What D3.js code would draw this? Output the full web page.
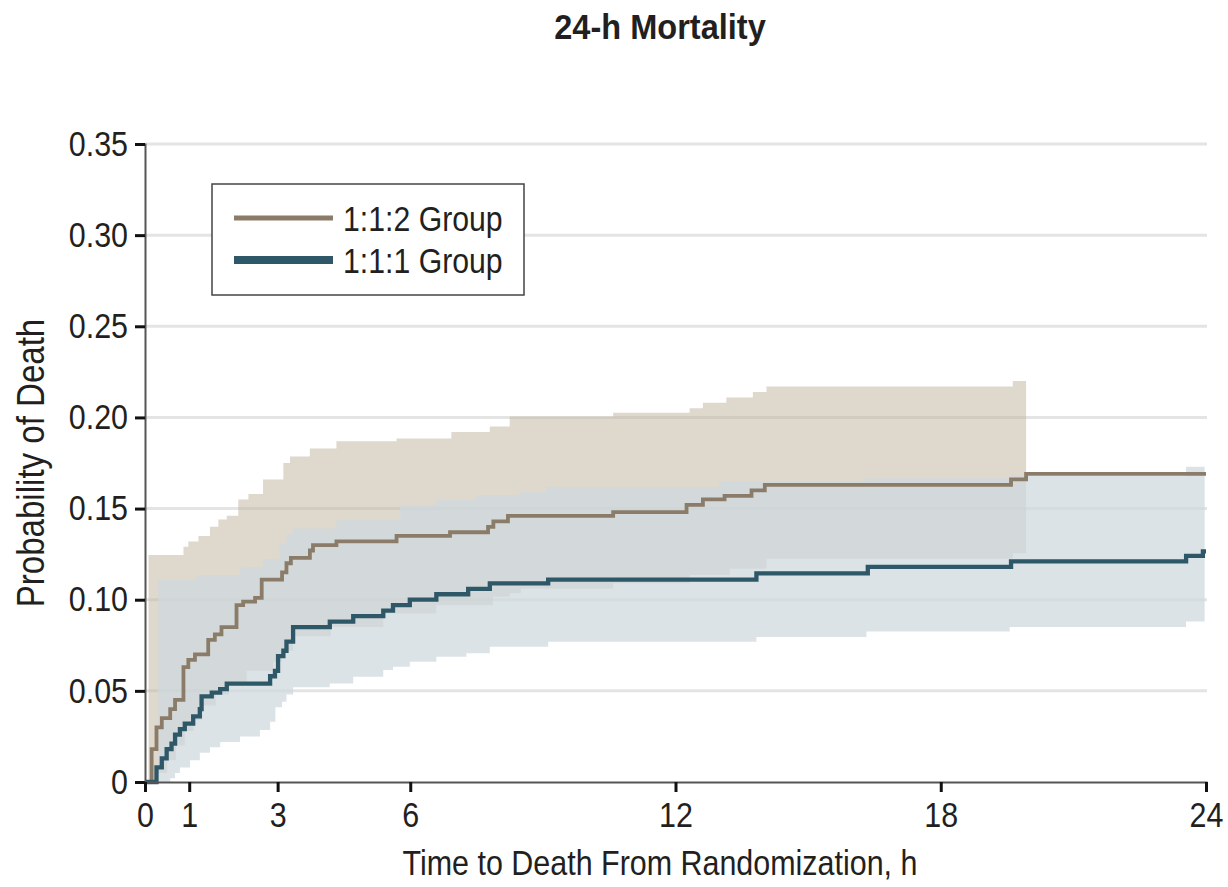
<!DOCTYPE html>
<html>
<head>
<meta charset="utf-8">
<style>
  body { margin: 0; background: #fff; }
  svg text { font-family: "Liberation Sans", Arial, sans-serif; fill: #231f20; }
</style>
<script src="https://cdn.jsdelivr.net/npm/d3@7"></script>
</head>
<body>
<svg id="chart" width="1228" height="887"></svg>
<script>
// ---- data ----
const seriesNames = ["1:1:2 Group", "1:1:1 Group"];
const xTicks = [0, 1, 3, 6, 12, 18, 24];
const yTicks = [0, 0.05, 0.10, 0.15, 0.20, 0.25, 0.30, 0.35];
const yTickLabels = ["0", "0.05", "0.10", "0.15", "0.20", "0.25", "0.30", "0.35"];

// Kaplan-Meier step curves (time in h, cumulative probability of death)
const group112Time = [0, 0.15, 0.26, 0.38, 0.57, 0.68, 0.87, 0.98, 1.13, 1.43, 1.58, 1.73, 2.07, 2.22, 2.49, 2.64, 3.10, 3.20, 3.30, 3.73, 3.80, 4.33, 5.69, 6.90, 7.76, 7.88, 8.21, 10.59, 12.25, 12.62, 13.11, 13.72, 14.02, 19.59, 19.93, 24];
const group112Prob = [0, 0.018, 0.030, 0.035, 0.040, 0.045, 0.063, 0.067, 0.070, 0.078, 0.081, 0.085, 0.097, 0.099, 0.101, 0.111, 0.115, 0.120, 0.123, 0.127, 0.130, 0.132, 0.135, 0.137, 0.140, 0.143, 0.146, 0.148, 0.152, 0.155, 0.157, 0.160, 0.163, 0.166, 0.169, 0.169];

const group111Time = [0, 0.26, 0.38, 0.49, 0.60, 0.68, 0.79, 0.90, 1.09, 1.24, 1.28, 1.51, 1.70, 1.85, 2.83, 2.94, 3.01, 3.13, 3.20, 3.35, 4.18, 4.71, 5.39, 5.61, 5.99, 6.59, 7.31, 7.80, 9.12, 13.83, 16.35, 19.59, 23.55, 23.93, 24];
const group111Prob = [0, 0.008, 0.013, 0.018, 0.021, 0.026, 0.029, 0.032, 0.036, 0.040, 0.047, 0.049, 0.051, 0.054, 0.058, 0.061, 0.069, 0.072, 0.077, 0.085, 0.088, 0.091, 0.094, 0.097, 0.100, 0.103, 0.106, 0.109, 0.111, 0.1145, 0.118, 0.121, 0.124, 0.1265, 0.1265];

// confidence bands
const band112End = 19.93;
const band112UpperTime = [0.08, 0.87, 0.98, 1.21, 1.47, 1.66, 1.85, 2.11, 2.34, 2.67, 3.13, 3.28, 3.73, 4.33, 5.69, 6.93, 7.80, 8.25, 10.59, 12.32, 12.62, 13.15, 13.75, 14.06, 19.63];
const band112Upper = [0.1245, 0.129, 0.132, 0.135, 0.140, 0.144, 0.146, 0.155, 0.158, 0.166, 0.175, 0.1785, 0.183, 0.187, 0.1885, 0.192, 0.195, 0.2005, 0.2026, 0.205, 0.208, 0.211, 0.214, 0.217, 0.220];
const band112LowerTime = [0.08, 0.30, 0.50, 0.70, 0.90, 1.10, 1.30, 1.60, 1.90, 2.30, 2.90, 3.10, 3.35, 4.20, 5.39, 6.59, 7.87, 8.25, 8.50, 10.59, 12.32, 13.23, 14.06, 19.63];
const band112Lower = [0, 0.005, 0.012, 0.020, 0.028, 0.034, 0.042, 0.048, 0.055, 0.061, 0.066, 0.072, 0.080, 0.085, 0.0925, 0.097, 0.1016, 0.1035, 0.106, 0.109, 0.1136, 0.117, 0.1225, 0.1255];

const band111End = 23.97;
const band111UpperTime = [0.30, 1.17, 2.15, 2.67, 3.05, 3.20, 3.35, 4.33, 5.77, 6.59, 7.50, 8.48, 9.08, 13.00, 16.30, 19.60, 23.55];
const band111Upper = [0.111, 0.1136, 0.118, 0.122, 0.131, 0.136, 0.139, 0.1437, 0.152, 0.1547, 0.1574, 0.159, 0.162, 0.1647, 0.1666, 0.168, 0.173];
const band111LowerTime = [0.30, 0.57, 0.68, 0.79, 1.02, 1.24, 1.47, 1.70, 2.15, 2.60, 2.83, 2.95, 3.10, 3.20, 3.35, 4.18, 4.71, 5.39, 5.61, 5.99, 6.59, 7.27, 7.80, 9.12, 13.83, 16.32, 19.56, 23.55];
const band111Lower = [0, 0.002, 0.005, 0.008, 0.012, 0.016, 0.019, 0.022, 0.025, 0.0285, 0.033, 0.041, 0.044, 0.048, 0.052, 0.054, 0.0578, 0.0614, 0.0632, 0.066, 0.0687, 0.0706, 0.0742, 0.077, 0.0795, 0.0825, 0.085, 0.088];

// ---- drawing ----
const svg = d3.select("#chart");
const x = d3.scaleLinear().domain([0, 24]).range([145, 1206]);
const y = d3.scaleLinear().domain([0, 0.35]).range([782, 144]);

const tanLine = "#8a7c69", tanFill = "rgba(190,178,155,0.5)";
const blueLine = "#2e5867", blueFill = "rgba(207,217,222,0.74)";
// no condensed face installed, so narrow the text by hand
const tickSqueeze = 0.87, titleSqueeze = 0.87, legendSqueeze = 0.84;

// value of a step function at t
function stepAt(times, vals, t) {
  let v = vals[0];
  times.forEach((tt, i) => { if (tt <= t) v = vals[i]; });
  return v;
}

function bandPoints(upT, upV, loT, loV, end) {
  let ts = Array.from(new Set([...upT, ...loT, end])).filter(t => t <= end).sort((a, b) => a - b);
  return ts.map(t => ({ t: t, hi: stepAt(upT, upV, t), lo: stepAt(loT, loV, t) }));
}

// gridlines
svg.append("g").selectAll("line")
  .data(yTicks.filter(d => d > 0))
  .enter().append("line")
  .attr("x1", x(0)).attr("x2", x(24) + 1)
  .attr("y1", d => y(d)).attr("y2", d => y(d))
  .attr("stroke", "#e4e4e4")
  .attr("stroke-width", 3);

let area = d3.area()
  .x(d => x(d.t))
  .y0(d => y(d.lo))
  .y1(d => y(d.hi))
  .curve(d3.curveStepAfter);

svg.append("path")
  .datum(bandPoints(band112UpperTime, band112Upper, band112LowerTime, band112Lower, band112End))
  .attr("d", area)
  .attr("fill", tanFill);

svg.append("path")
  .datum(bandPoints(band111UpperTime, band111Upper, band111LowerTime, band111Lower, band111End))
  .attr("d", area)
  .attr("fill", blueFill);

let line = d3.line()
  .x(d => x(d[0]))
  .y(d => y(d[1]))
  .curve(d3.curveStepAfter);

svg.append("path")
  .datum(d3.zip(group112Time, group112Prob))
  .attr("d", line)
  .attr("fill", "none")
  .attr("stroke", tanLine)
  .attr("stroke-width", 3.8);

svg.append("path")
  .datum(d3.zip(group111Time, group111Prob))
  .attr("d", line)
  .attr("fill", "none")
  .attr("stroke", blueLine)
  .attr("stroke-width", 4.3);

// axes
let yAxis = d3.axisLeft(y).tickValues(yTicks)
  .tickFormat((d, i) => yTickLabels[i]).tickSize(10).tickPadding(7);
let gy = svg.append("g").attr("transform", "translate(" + x(0) + ",0)").call(yAxis);

let xAxis = d3.axisBottom(x).tickValues(xTicks).tickSize(10).tickPadding(6);
let gx = svg.append("g").attr("transform", "translate(0," + y(0) + ")").call(xAxis);

[gy, gx].forEach(g => {
  g.select(".domain").attr("stroke", "#555").attr("stroke-width", 2);
  g.selectAll(".tick line").attr("stroke", "#111").attr("stroke-width", 3);
  g.selectAll(".tick text").attr("font-size", 35).attr("fill", "#231f20")
    .style("font-family", "'Liberation Sans', Arial, sans-serif")
    .attr("transform", "scale(" + tickSqueeze + ",1)");
});
gy.selectAll(".tick text").attr("x", -17 / tickSqueeze);
gx.selectAll(".tick text").attr("y", 45).attr("dy", 0);

// titles
svg.append("text")
  .attr("transform", "scale(0.93,1)")
  .attr("x", 660 / 0.93).attr("y", 39)
  .attr("text-anchor", "middle")
  .attr("font-size", 35).attr("font-weight", "bold")
  .text("24-h Mortality");

svg.append("text")
  .attr("transform", "scale(" + titleSqueeze + ",1)")
  .attr("x", 660 / titleSqueeze).attr("y", 875)
  .attr("text-anchor", "middle")
  .attr("font-size", 35)
  .text("Time to Death From Randomization, h");

svg.append("text")
  .attr("transform", "translate(44,463) rotate(-90) scale(" + titleSqueeze + ",1)")
  .attr("text-anchor", "middle")
  .attr("font-size", 38)
  .text("Probability of Death");

// legend
let legend = svg.append("g");
legend.append("rect")
  .attr("x", 212).attr("y", 184).attr("width", 312).attr("height", 111)
  .attr("fill", "#fff").attr("stroke", "#444").attr("stroke-width", 1.5);

let legendRows = [
  { name: seriesNames[0], color: tanLine, w: 5, yy: 218 },
  { name: seriesNames[1], color: blueLine, w: 8, yy: 260 }
];
legend.selectAll("line.key").data(legendRows).enter().append("line")
  .attr("class", "key")
  .attr("x1", 234).attr("x2", 333)
  .attr("y1", d => d.yy).attr("y2", d => d.yy)
  .attr("stroke", d => d.color).attr("stroke-width", d => d.w);
legend.selectAll("text").data(legendRows).enter().append("text")
  .attr("transform", "scale(" + legendSqueeze + ",1)")
  .attr("x", 343 / legendSqueeze).attr("y", d => d.yy)
  .attr("dy", "0.35em")
  .attr("font-size", 36)
  .text(d => d.name);
</script>
</body>
</html>
